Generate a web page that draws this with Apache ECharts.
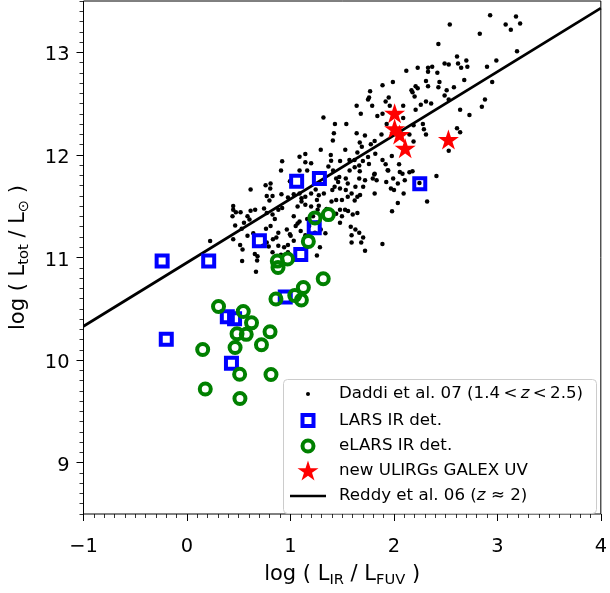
<!DOCTYPE html>
<html>
<head>
<meta charset="utf-8">
<script src="https://cdn.jsdelivr.net/npm/echarts@6/dist/echarts.min.js"></script>
<style>html,body{margin:0;padding:0;background:#fff}#c{width:610px;height:593px}</style>
</head>
<body>
<div id="c"></div>
<script>
// ---- data ----
const xTicks = [-1, 0, 1, 2, 3, 4];
const yTicks = [9, 10, 11, 12, 13];

// Daddi et al. 07 (1.4<z<2.5): [log(LIR/LFUV), log(Ltot/Lsun)]
const daddi = [
[2.93,13.36],[3.18,13.35],[3.08,13.27],[3.22,13.28],[3.13,13.22],[2.54,13.27],[2.83,13.18],[2.43,13.08],[3.19,13.01],[2.99,12.92],
[2.90,12.86],[2.95,12.71],[2.88,12.54],[2.85,12.47],[2.73,12.39],[2.64,12.44],[2.68,12.73],[2.61,12.96],[2.70,12.92],[2.71,12.86],
[2.62,12.89],[2.65,12.85],[2.49,12.89],[2.53,12.88],[2.37,12.86],[2.33,12.85],[2.33,12.81],[2.23,12.85],[2.42,12.80],[2.12,12.82],
[2.44,12.71],[2.43,12.66],[2.51,12.63],[2.58,12.66],[2.33,12.67],[2.31,12.72],[2.17,12.63],[2.21,12.67],[2.23,12.65],[2.20,12.57],
[2.18,12.61],[1.99,12.71],[1.89,12.68],[1.77,12.62],[1.76,12.56],[1.75,12.54],[1.79,12.48],[1.64,12.48],[1.68,12.40],[1.95,12.56],
[1.92,12.52],[1.96,12.48],[2.09,12.48],[2.21,12.44],[2.26,12.49],[2.31,12.52],[2.36,12.50],[2.53,12.54],[2.49,12.58],[1.84,12.38],
[1.89,12.40],[2.09,12.36],[1.43,12.30],[1.54,12.30],[1.42,12.21],[1.41,12.14],[1.64,12.21],[1.72,12.19],[1.88,12.20],[1.93,12.30],
[2.19,12.29],[2.28,12.30],[2.29,12.25],[2.31,12.20],[2.15,12.20],[2.19,12.13],[2.61,12.26],[2.64,12.22],[2.53,12.04],[1.67,12.12],
[1.69,12.08],[1.53,12.05],[1.39,12.00],[1.48,11.94],[1.57,11.95],[1.62,11.95],[1.70,11.94],[1.75,11.98],[1.82,12.01],[1.89,11.95],
[1.92,11.91],[2.05,11.91],[1.98,11.99],[1.94,11.85],[2.15,11.83],[2.18,11.84],[1.81,11.81],[1.67,11.84],
[0.224,11.160],[0.447,11.501],[0.447,11.466],[0.473,11.440],[0.518,11.440],[0.585,11.402],[0.615,11.456],[0.659,11.466],[0.604,11.370],[0.551,11.338],
[0.466,11.313],[0.440,11.402],[0.529,11.281],[0.447,11.179],[0.514,11.121],[0.537,11.077],[0.533,10.965],[0.656,11.035],[0.682,11.013],[0.667,10.860],
[0.678,10.971],[0.734,11.115],[0.641,11.236],[0.585,11.211],[0.615,11.663],[0.760,11.705],[0.808,11.721],[0.805,11.673],[0.771,11.600],[0.827,11.600],
[0.797,11.555],[0.745,11.478],[0.771,11.434],[0.827,11.418],[0.808,11.306],[0.764,11.281],[0.849,11.376],[0.771,11.147],[0.831,11.179],[0.883,11.242],
[0.864,11.195],[0.883,11.115],[0.790,11.108],[0.827,11.051],[0.909,11.026],[0.939,11.099],[0.976,11.051],[1.002,11.211],[0.965,11.274],[0.883,11.466],
[0.920,11.482],[0.909,11.849],[0.920,11.938],[0.995,11.743],[1.088,11.849],[1.144,12.008],[1.088,11.982],[1.144,11.928],[1.200,11.919],[1.162,11.849],
[1.293,12.049],[1.319,12.365],[1.393,11.944],[0.913,11.616],[0.976,11.584],[1.032,11.616],[1.088,11.625],[1.107,11.577],[1.144,11.593],[1.200,11.625],
[1.244,11.663],[1.274,11.606],[1.323,11.625],[1.256,11.561],[1.107,11.545],[1.069,11.498],[1.144,11.514],[1.200,11.498],[1.274,11.504],[1.263,11.466],
[1.349,11.472],[1.032,11.402],[1.088,11.351],[1.162,11.376],[1.069,11.332],[0.995,11.227],[1.051,11.306],[1.099,11.258],[1.144,11.217],[1.181,11.306],
[1.218,11.402],[1.256,11.338],[1.293,11.274],[1.237,11.242],[1.285,11.099],[1.256,11.019],[1.338,11.236],[1.032,11.163],[0.976,11.121],
[1.367,11.887],[1.412,11.849],[1.442,11.769],[1.472,11.785],[1.461,11.737],[1.427,11.689],[1.479,11.673],[1.535,11.769],[1.554,11.721],[1.572,11.849],
[1.621,11.880],[1.665,11.896],[1.759,11.912],[1.796,11.769],[1.721,11.753],[1.665,11.769],[1.703,11.689],[1.628,11.689],[1.591,11.625],[1.647,11.593],
[1.673,11.609],[1.621,11.555],[1.554,11.593],[1.498,11.561],[1.442,11.561],[1.405,11.657],[1.397,11.545],[1.479,11.466],[1.528,11.466],[1.498,11.402],
[1.442,11.427],[1.479,11.338],[1.583,11.300],[1.628,11.274],[1.591,11.217],[1.665,11.242],[1.703,11.195],[1.684,11.147],[1.591,11.147],[1.721,11.067],
[1.535,11.657],[1.602,11.418],[1.647,11.434],[1.814,11.625],[1.814,11.817],[1.833,11.753],[1.945,11.849],[1.926,11.737],[1.971,11.673],[2.001,11.657],
[1.993,11.769],[2.038,11.721],[2.057,11.833],[2.083,11.817],[2.105,11.753],[2.094,11.625],[2.038,11.530],[1.982,11.450],[1.889,11.131],[2.321,11.545],
[2.411,11.794],[2.247,11.727],[1.647,12.024],[1.777,12.104],[1.814,12.136],[1.557,11.453]
];

// LARS IR det.
const lars = [[-0.24,10.965],[0.21,10.965],[0.70,11.163],[1.10,11.03],[1.06,11.743],[1.28,11.77],[1.23,11.29],[2.25,11.72],
  [0.95,10.614],[0.39,10.423],[0.46,10.404],[-0.20,10.203],[0.43,9.970]];

// eLARS IR det.
const elars = [[0.305,10.522],[0.544,10.474],[0.624,10.363],[0.484,10.257],[0.573,10.251],[0.803,10.276],[0.720,10.149],[0.465,10.123],
  [0.152,10.104],[0.509,9.862],[0.812,9.859],[0.177,9.718],[0.512,9.626],[0.860,10.595],[1.042,10.630],[1.125,10.707],[1.106,10.586],
  [1.317,10.793],[0.873,10.965],[0.880,10.902],[0.972,10.985],[1.173,11.157],[1.237,11.386],[1.367,11.418]];

// new ULIRGs GALEX UV
const ulirgs = [[2.007,12.407],[2.007,12.257],[2.055,12.199],[2.109,12.065],[2.527,12.151]];

// Reddy et al. 06 (z~2) relation, end points read at the frame edges
const reddyX = [-1, 4];
const reddyY = [10.33, 13.43];

// ---- chart ----
const FONT = 'DejaVu Sans';
const starPath = 'path://M0,-1 L0.2245,-0.309 L0.951,-0.309 L0.363,0.118 L0.588,0.809 L0,0.382 L-0.588,0.809 L-0.363,0.118 L-0.951,-0.309 L-0.2245,-0.309 Z';

const TS = '\u2009';
const legendText = {
  Daddi: '{r|Daddi et al. 07 (1.4' + TS + '<' + TS + '}{i|z}{r|' + TS + '<' + TS + '2.5)}',
  LARS: '{r|LARS IR det.}',
  eLARS: '{r|eLARS IR det.}',
  ULIRG: '{r|new ULIRGs GALEX UV}',
  Reddy: '{r|Reddy et al. 06 (}{i|z}{r| ≈ 2)}'
};
const legRich = {
  r: {fontSize: 16.67, fontFamily: FONT, color: '#000', lineHeight: 20},
  i: {fontSize: 16.67, fontFamily: FONT, fontStyle: 'italic', color: '#000', lineHeight: 20}
};
const TEXT_X = 339, ICON_CX = 308;
function mkLegend(name, cy, w, h, itemStyle, extra, strokeOut) {
  const so = strokeOut || 0;
  return Object.assign({
    data: [name], orient: 'horizontal', left: ICON_CX - w / 2 - so, top: cy - 10,
    itemWidth: w, itemHeight: h, padding: 0, itemGap: 0, selectedMode: false,
    formatter: n => legendText[n],
    itemStyle: itemStyle,
    textStyle: {fontSize: 16.67, fontFamily: FONT, color: '#000', lineHeight: 20,
      padding: [0, 0, 0, TEXT_X - (ICON_CX + w / 2 + 5)], rich: legRich}
  }, extra || {});
}

const nameRich = {
  t: {fontSize: 21, fontFamily: FONT, color: '#000', lineHeight: 26},
  s: {fontSize: 14.7, fontFamily: FONT, color: '#000', lineHeight: 18, verticalAlign: 'bottom'}
};
const fmtNum = v => (v < 0 ? '\u2212' + Math.abs(v) : String(v));

const option = {
  animation: false,
  textStyle: {fontFamily: FONT},
  grid: {left: 83, top: 1, width: 522, height: 522, show: true, borderColor: '#000', borderWidth: 1},
  xAxis: {
    type: 'value', min: xTicks[0], max: xTicks[xTicks.length - 1], interval: 1,
    axisLine: {show: false, onZero: false},
    axisTick: {show: true, length: 7, lineStyle: {color: '#000', width: 1}},
    minorTick: {show: true, splitNumber: 10, length: 4, lineStyle: {color: '#000', width: 0.8}},
    splitLine: {show: false}, minorSplitLine: {show: false},
    axisLabel: {fontSize: 19.4, color: '#000', fontFamily: FONT, margin: 23, formatter: fmtNum},
    name: '{t|log ( L}{s|IR}{t| / L}{s|FUV}{t| )}', nameLocation: 'middle', nameGap: 48,
    nameTextStyle: {rich: nameRich}
  },
  yAxis: [{
    type: 'value', min: 8.5, max: 13.5,
    axisLine: {show: false, onZero: false},
    axisTick: {show: true, length: 7, customValues: yTicks, lineStyle: {color: '#000', width: 1}},
    splitLine: {show: false},
    axisLabel: {fontSize: 19.4, color: '#000', fontFamily: FONT, margin: 14, lineHeight: 6,
      verticalAlign: 'top', customValues: yTicks, formatter: fmtNum},
    name: '{t|log ( L}{s|tot}{t| / L}{s|\u2299}{t| )}', nameLocation: 'middle', nameGap: 52, nameRotate: 90,
    nameTextStyle: {rich: nameRich}
  }, {
    type: 'value', min: 8.5, max: 13.5, interval: 0.5, position: 'left',
    axisLine: {show: false, onZero: false},
    axisTick: {show: true, length: 4, lineStyle: {color: '#000', width: 0.8}},
    minorTick: {show: true, splitNumber: 5, length: 4, lineStyle: {color: '#000', width: 0.8}},
    axisLabel: {show: true, fontSize: 1, color: 'rgba(0,0,0,0)'},
    splitLine: {show: false}, minorSplitLine: {show: false}
  }],
  legend: [
    mkLegend('Daddi', 394, 4, 4, {borderWidth: 0, opacity: 1}),
    mkLegend('LARS', 420.5, 11, 11, {borderWidth: 4, opacity: 1}, null, 2),
    mkLegend('eLARS', 446, 11, 11, {borderWidth: 4, opacity: 1}, null, 2),
    mkLegend('ULIRG', 470.5, 21, 20, {borderWidth: 0, opacity: 1}),
    mkLegend('Reddy', 496, 36, 2.7, {color: '#000', borderWidth: 0, opacity: 1},
      {icon: 'rect', symbolKeepAspect: false})
  ],
  graphic: [{
    type: 'rect', z: 3,
    shape: {x: 283.5, y: 379.5, width: 313, height: 134, r: 4},
    style: {fill: 'rgba(255,255,255,0.8)', stroke: '#cccccc', lineWidth: 1}
  }],
  series: [
    {name: 'Daddi', type: 'scatter', data: daddi, symbol: 'circle', symbolSize: 4.5,
      itemStyle: {color: '#000', opacity: 1}, z: 2},
    {name: 'LARS', type: 'scatter', data: lars, symbol: 'rect', symbolSize: 11,
      itemStyle: {color: 'rgba(0,0,0,0)', borderColor: '#0000ff', borderWidth: 4, opacity: 1}, z: 2},
    {name: 'eLARS', type: 'scatter', data: elars, symbol: 'circle', symbolSize: 11,
      itemStyle: {color: 'rgba(0,0,0,0)', borderColor: '#008000', borderWidth: 4, opacity: 1}, z: 2},
    {name: 'ULIRG', type: 'scatter', data: ulirgs, symbol: starPath, symbolSize: [21, 20],
      itemStyle: {color: '#ff0000', opacity: 1}, z: 2},
    {name: 'Reddy', type: 'line', data: reddyX.map((x, i) => [x, reddyY[i]]), symbol: 'none', showSymbol: false,
      lineStyle: {color: '#000', width: 2.7}, itemStyle: {color: '#000'}, z: 2}
  ]
};
echarts.init(document.getElementById('c'), null, {renderer: 'canvas'}).setOption(option);
</script>
</body>
</html>
